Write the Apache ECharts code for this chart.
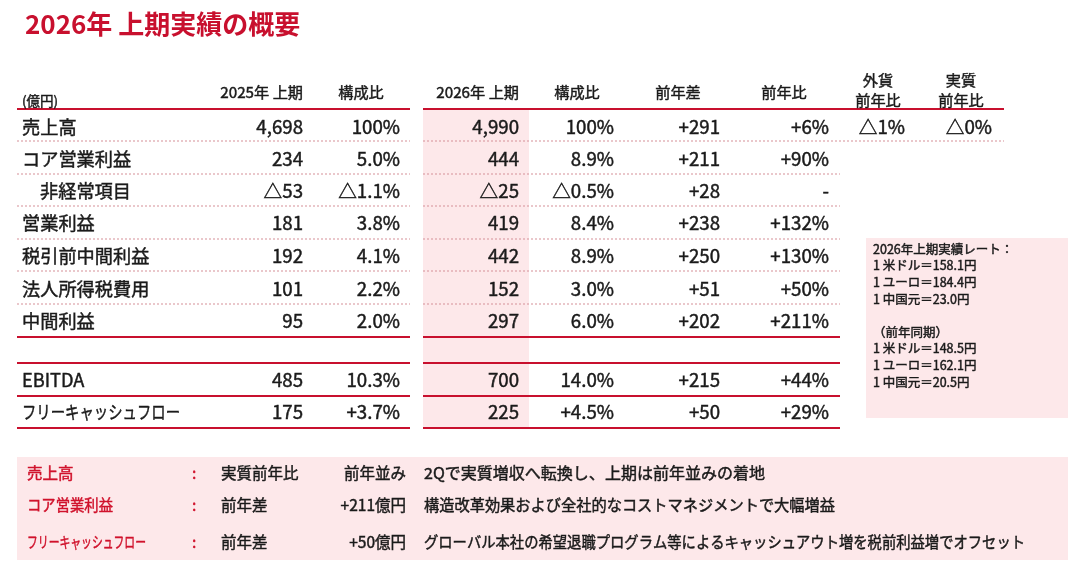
<!DOCTYPE html>
<html>
<head>
<meta charset="utf-8">
<script src="https://cdn.jsdelivr.net/npm/echarts@6/dist/echarts.min.js"></script>
<style>
html,body{margin:0;padding:0;background:#fff;}
#chart{width:1080px;height:565px;}
</style>
</head>
<body>
<div id="chart"></div>
<script>
// ---------------- DATA ----------------
const titleText = '2026年 上期実績の概要';
const unitLabel = '(億円)';
const rowLabels = ['売上高','コア営業利益','非経常項目','営業利益','税引前中間利益','法人所得税費用','中間利益','EBITDA','フリーキャッシュフロー'];
const h1_2025 = [4698, 234, -53, 181, 192, 101, 95, 485, 175];
const ratio2025 = [100, 5.0, -1.1, 3.8, 4.1, 2.2, 2.0, 10.3, 3.7];
const h1_2026 = [4990, 444, -25, 419, 442, 152, 297, 700, 225];
const ratio2026 = [100, 8.9, -0.5, 8.4, 8.9, 3.0, 6.0, 14.0, 4.5];
const yoyDiff = [291, 211, 28, 238, 250, 51, 202, 215, 50];
const yoyPct = [6, 90, null, 132, 130, 50, 211, 44, 29];
const fxYoyPct = [-1];
const realYoyPct = ['△0%'];
const headers = ['2025年 上期','構成比','2026年 上期','構成比','前年差','前年比'];
const headers2 = [['外貨','前年比'],['実質','前年比']];
const rateLines = ['2026年上期実績レート：','1 米ドル＝158.1円','1 ユーロ＝184.4円','1 中国元＝23.0円','','（前年同期）','1 米ドル＝148.5円','1 ユーロ＝162.1円','1 中国元＝20.5円'];
const noteItems = ['売上高','コア営業利益','フリーキャッシュフロー'];
const noteMetric = ['実質前年比','前年差','前年差'];
const noteValue = ['前年並み','+211億円','+50億円'];
const noteText = ['2Qで実質増収へ転換し、上期は前年並みの着地','構造改革効果および全社的なコストマネジメントで大幅増益','グローバル本社の希望退職プログラム等によるキャッシュアウト増を税前利益増でオフセット'];
const signedRatioRows = [8];
const indentRows = [2];

// ---------------- LAYOUT / STYLE ----------------
const FONT = '"Noto Sans CJK JP", "Noto Sans", sans-serif';
const RED = '#c8102e';
const NOTE_RED = '#d0112b';
const TXT = '#1a1a1a';
const PINK = '#fde8ea';
const DASH = '#d68f97';
const L = {
  labelX: 22, indentX: 40,
  colRight: [303, 400, 519, 614, 720, 829],
  headerCenter: [null, 361, null, 577, 678, 784],
  extraRight: [905, 992], extraCenter: [878, 961],
  rowY: [127, 159, 191, 223, 256, 289, 321, 380, 412],
  headerY: 92, header2Y: [80, 100], unitY: 101,
  lineY: [141, 174, 206, 239, 271, 304, 337, 363, 396, 428],
  lineSolid: [false, false, false, false, false, false, true, true, true, true],
  headerLineY: 109,
  segL: [17, 410], segR: [423, 840], segRWide: 1004,
  pinkCol: [423, 110, 529, 428],
  rateBox: [866, 238, 1068, 418], rateX: 873, rateY0: 249, rateStep: 16.6,
  noteBox: [17, 457, 1068, 560], noteY: [473, 505, 542],
  noteX: [27, 192, 221, 406, 424],
  labelSize: 18.2, valueSize: 18.7, headSize: 15.2, smallSize: 12.5, noteSize: 15.5, unitSize: 13.5,
  fcfLabelW: 158, noteLabelW: [null, 86, 119], noteTextW: [341, 411, 601],
  strokeW: 0.45
};

// ---------------- FORMATTERS ----------------
const fmtAmt = v => v < 0 ? '△' + Math.abs(v).toLocaleString('en-US') : v.toLocaleString('en-US');
const fmtRatio = (v, i) => v === 100 ? '100%' : (v < 0 ? '△' + Math.abs(v).toFixed(1) : (signedRatioRows.includes(i) ? '+' : '') + v.toFixed(1)) + '%';
const fmtDiff = v => v < 0 ? '△' + Math.abs(v) : '+' + v;
const fmtPct = v => v === null ? '-' : (v < 0 ? '△' + Math.abs(v) + '%' : '+' + v + '%');

// text width measurement for proportional-kana fitting
const mctx = document.createElement('canvas').getContext('2d');
function measure(text, size) { mctx.font = `normal ${size}px ${FONT}`; return mctx.measureText(text).width; }

// ---------------- BUILD CELLS ----------------
const cells = [];
function cell(x, y, text, align, size, color, fitW) {
  let sx = 1;
  if (fitW) sx = fitW / measure(text, size);
  cells.push({x, y, text, align: align || 'left', size, color: color || TXT, sx});
}
// headers
cell(L.labelX, L.unitY, unitLabel, 'left', L.unitSize, TXT);
headers.forEach((h, j) => {
  if (L.headerCenter[j] !== null) cell(L.headerCenter[j], L.headerY, h, 'center', L.headSize);
  else cell(L.colRight[j], L.headerY, h, 'right', L.headSize);
});
headers2.forEach((h, j) => {
  h.forEach((t, k) => cell(L.extraCenter[j], L.header2Y[k], t, 'center', L.headSize));
});
// body
rowLabels.forEach((lab, i) => {
  const y = L.rowY[i], vs = L.valueSize;
  cell(indentRows.includes(i) ? L.indentX : L.labelX, y, lab, 'left', L.labelSize, TXT, i === 8 ? L.fcfLabelW : null);
  cell(L.colRight[0], y, fmtAmt(h1_2025[i]), 'right', vs);
  cell(L.colRight[1], y, fmtRatio(ratio2025[i], i), 'right', vs);
  cell(L.colRight[2], y, fmtAmt(h1_2026[i]), 'right', vs);
  cell(L.colRight[3], y, fmtRatio(ratio2026[i], i), 'right', vs);
  cell(L.colRight[4], y, fmtDiff(yoyDiff[i]), 'right', vs);
  cell(L.colRight[5], y, fmtPct(yoyPct[i]), 'right', vs);
});
fxYoyPct.forEach((v, i) => cell(L.extraRight[0], L.rowY[i], fmtPct(v), 'right', L.valueSize));
realYoyPct.forEach((v, i) => cell(L.extraRight[1], L.rowY[i], v, 'right', L.valueSize));
// rate box
rateLines.forEach((t, i) => { if (t) cell(L.rateX, L.rateY0 + i * L.rateStep, t, 'left', L.smallSize); });
// notes
noteItems.forEach((t, i) => {
  const y = L.noteY[i], ns = L.noteSize;
  cell(L.noteX[0], y, t, 'left', ns, NOTE_RED, L.noteLabelW[i]);
  cell(L.noteX[1], y, ':', 'left', ns, NOTE_RED);
  cell(L.noteX[2], y, noteMetric[i], 'left', ns);
  cell(L.noteX[3], y, noteValue[i], 'right', ns);
  cell(L.noteX[4], y, noteText[i], 'left', ns, TXT, L.noteTextW[i]);
});

// ---------------- RECTS & LINES ----------------
const rects = [L.pinkCol, L.rateBox, L.noteBox];
const lines = [];
lines.push([L.segL[0], L.headerLineY, L.segL[1], 1]);
lines.push([L.segR[0], L.headerLineY, L.segRWide, 1]);
L.lineY.forEach((y, i) => {
  const s = L.lineSolid[i] ? 1 : 0;
  lines.push([L.segL[0], y, L.segL[1], s]);
  lines.push([L.segR[0], y, i === 0 ? L.segRWide : L.segR[1], s]);
});

const chart = echarts.init(document.getElementById('chart'));
chart.setOption({
  animation: false,
  backgroundColor: '#fff',
  title: {text: titleText, left: 20, top: 6, textStyle: {color: RED, fontSize: 26, fontWeight: 'bold', fontFamily: FONT}},
  grid: {left: 0, right: 0, top: 0, bottom: 0},
  xAxis: {type: 'value', min: 0, max: 1080, show: false},
  yAxis: {type: 'value', min: 0, max: 565, inverse: true, show: false},
  series: [
    {
      type: 'custom', silent: true, clip: false, z: 1,
      data: rects,
      renderItem: (params, api) => {
        const a = api.coord([api.value(0), api.value(1)]);
        const b = api.coord([api.value(2), api.value(3)]);
        return {type: 'rect', shape: {x: a[0], y: a[1], width: b[0] - a[0], height: b[1] - a[1]}, style: {fill: PINK}};
      }
    },
    {
      type: 'custom', silent: true, clip: false, z: 2,
      data: lines,
      renderItem: (params, api) => {
        const a = api.coord([api.value(0), api.value(1)]);
        const b = api.coord([api.value(2), api.value(1)]);
        const solid = api.value(3) === 1;
        return {type: 'line', shape: {x1: a[0], y1: a[1], x2: b[0], y2: b[1]},
          style: solid ? {stroke: RED, lineWidth: 2} : {stroke: DASH, lineWidth: 1, lineDash: [2, 2]}};
      }
    },
    {
      type: 'custom', silent: true, clip: false, z: 3,
      data: cells.map(c => [c.x, c.y]),
      renderItem: (params, api) => {
        const c = cells[params.dataIndex];
        const p = api.coord([api.value(0), api.value(1)]);
        return {type: 'text', x: p[0], y: p[1], scaleX: c.sx, originX: 0, originY: 0,
          style: {x: 0, y: 0, text: c.text, align: c.align, verticalAlign: 'middle',
          fill: c.color, stroke: c.color, lineWidth: L.strokeW,
          fontSize: c.size, fontFamily: FONT, fontWeight: 'normal'}};
      }
    }
  ]
});
</script>
</body>
</html>
